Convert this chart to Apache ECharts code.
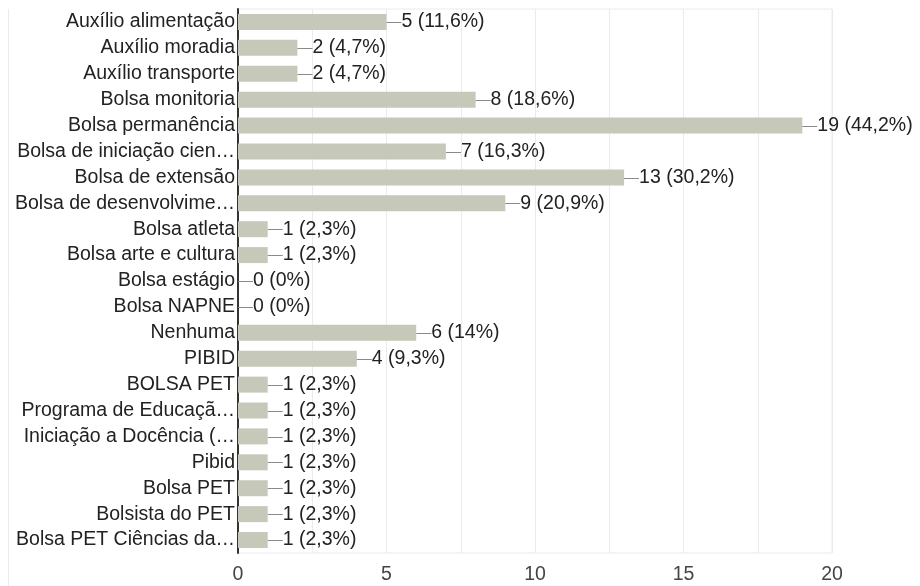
<!DOCTYPE html>
<html><head><meta charset="utf-8">
<script src="https://cdn.jsdelivr.net/npm/echarts@6/dist/echarts.min.js"></script>
<style>html,body{margin:0;padding:0;background:#fff}#c{width:920px;height:586px}</style>
</head><body><div id="c"></div>
<script>
const categories = ["Auxílio alimentação","Auxílio moradia","Auxílio transporte","Bolsa monitoria","Bolsa permanência","Bolsa de iniciação cien…","Bolsa de extensão","Bolsa de desenvolvime…","Bolsa atleta","Bolsa arte e cultura","Bolsa estágio","Bolsa NAPNE","Nenhuma","PIBID","BOLSA PET","Programa de Educaçã…","Iniciação a Docência (…","Pibid","Bolsa PET","Bolsista do PET","Bolsa PET Ciências da…"];
const values = [5,2,2,8,19,7,13,9,1,1,0,0,6,4,1,1,1,1,1,1,1];
const percents = ["11,6%","4,7%","4,7%","18,6%","44,2%","16,3%","30,2%","20,9%","2,3%","2,3%","0%","0%","14%","9,3%","2,3%","2,3%","2,3%","2,3%","2,3%","2,3%","2,3%"];
const xTicks = [0,5,10,15,20];

const chart = echarts.init(document.getElementById('c'));
chart.setOption({
  animation:false,
  textStyle:{fontFamily:'Liberation Sans, Arial, sans-serif'},
  grid:{left:238,right:88,top:9,bottom:33,show:true,borderColor:'#ebebeb',borderWidth:1},
  graphic:[{type:'line',shape:{x1:8.5,y1:9,x2:8.5,y2:586},style:{stroke:'#ebebeb',lineWidth:1}}],
  xAxis:{type:'value',min:xTicks[0],max:xTicks[xTicks.length-1],interval:5,
    axisLine:{show:false},axisTick:{show:false},
    axisLabel:{color:'#444',fontSize:19.5,margin:12},
    splitLine:{lineStyle:{color:'#ebebeb'}},
    minorTick:{show:false,splitNumber:2},
    minorSplitLine:{show:true,lineStyle:{color:'#ebebeb'}}},
  yAxis:{type:'category',data:categories,inverse:true,
    axisLine:{lineStyle:{color:'#333',width:2}},axisTick:{show:false},
    axisLabel:{color:'#222',fontSize:19.5,margin:3,interval:0,hideOverlap:false},splitLine:{show:false}},
  series:[{type:'bar',data:values,barWidth:16,itemStyle:{color:'#c6c9b9'},
    label:{show:true,position:'right',distance:0,
      formatter:p=>'{d|—}{t|'+p.value+' ('+percents[p.dataIndex]+')}',
      rich:{d:{color:'#8a8a8a',fontSize:15},t:{color:'#222',fontSize:19.5}}}}]
});
</script></body></html>
